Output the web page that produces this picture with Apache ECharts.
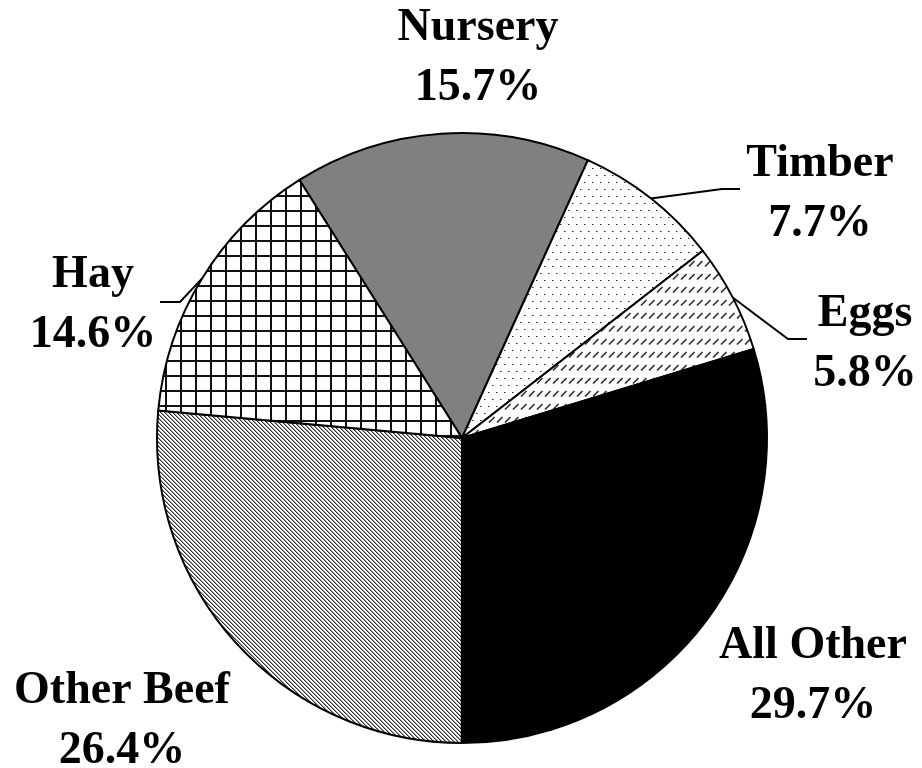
<!DOCTYPE html>
<html>
<head>
<meta charset="utf-8">
<script src="https://cdn.jsdelivr.net/npm/echarts@6/dist/echarts.min.js"></script>
<style>
html,body{margin:0;padding:0;background:#fff;}
#chart{width:922px;height:768px;}
</style>
</head>
<body>
<div id="chart"></div>
<script>
// ---- data ----
const categories = ['Nursery', 'Timber', 'Eggs', 'All Other', 'Other Beef', 'Hay'];
const shares = [15.7, 7.7, 5.8, 29.7, 26.4, 14.6];

// ---- styles / layout ----
function tile(w, h, draw) {
  const c = document.createElement('canvas');
  c.width = w; c.height = h;
  const g = c.getContext('2d');
  g.fillStyle = '#fff';
  g.fillRect(0, 0, w, h);
  draw(g);
  return { image: c, repeat: 'repeat' };
}
const fills = {
  'Nursery': '#808080',
  'Timber': tile(8, 14, g => { g.fillStyle = '#222'; g.fillRect(0, 0, 1, 1); g.fillRect(4, 7, 1, 1); g.fillStyle = '#999'; g.fillRect(1, 0, 1, 1); g.fillRect(5, 7, 1, 1); }),
  'Eggs': tile(8, 13, g => { g.strokeStyle = '#333'; g.lineWidth = 1.7; g.beginPath(); g.moveTo(1, 6.5); g.lineTo(6.5, 1); g.stroke(); }),
  'All Other': '#000',
  'Other Beef': tile(4, 4, g => {
    for (let x = 0; x < 4; x++) for (let y = 0; y < 4; y++) {
      const d = (x - y + 8) % 4;
      if (d === 0) { g.fillStyle = '#333'; g.fillRect(x, y, 1, 1); }
      else if (d === 1) { g.fillStyle = '#999'; g.fillRect(x, y, 1, 1); }
    }
  }),
  'Hay': tile(15, 15, g => { g.fillStyle = '#111'; g.fillRect(0, 0, 15, 2); g.fillRect(0, 0, 2, 15); })
};
const labelAnchor = {
  'Nursery': [478, 58],
  'Timber': [820, 194],
  'Eggs': [865, 344],
  'All Other': [813, 676],
  'Other Beef': [122, 721],
  'Hay': [93, 305]
};
const leader = {
  'Timber': [[722, 189], [740, 189]],
  'Eggs': [[788, 339], [807, 339]],
  'Hay': [[180, 302], [160, 302]]
};

const chart = echarts.init(document.getElementById('chart'), null, { renderer: 'canvas' });

const seriesData = categories.map((name, i) => ({
  name: name,
  value: shares[i],
  itemStyle: { color: fills[name] },
  labelLine: { show: !!leader[name] }
}));

chart.setOption({
  animation: false,
  backgroundColor: '#fff',
  series: [{
    type: 'pie',
    center: [462, 438],
    radius: 305,
    startAngle: 122.2,
    clockwise: true,
    data: seriesData,
    itemStyle: { borderColor: '#000', borderWidth: 2 },
    label: {
      show: true,
      position: 'outside',
      alignTo: 'none',
      overflow: 'none',
      formatter: p => p.name + '\n' + p.value.toFixed(1) + '%',
      fontFamily: 'Liberation Serif',
      fontWeight: 'bold',
      fontSize: 46,
      lineHeight: 60,
      color: '#000',
      align: 'center'
    },
    labelLine: {
      show: true,
      length: 20,
      length2: 20,
      lineStyle: { color: '#000', width: 2 }
    },
    emphasis: { disabled: true },
    labelLayout: function (params) {
      const name = categories[params.dataIndex];
      const a = labelAnchor[name];
      const res = { x: a[0], y: a[1], align: 'center', verticalAlign: 'middle', width: 300 };
      if (leader[name] && params.labelLinePoints) {
        res.labelLinePoints = [params.labelLinePoints[0], leader[name][0], leader[name][1]];
      }
      return res;
    }
  }]
});
</script>
</body>
</html>
